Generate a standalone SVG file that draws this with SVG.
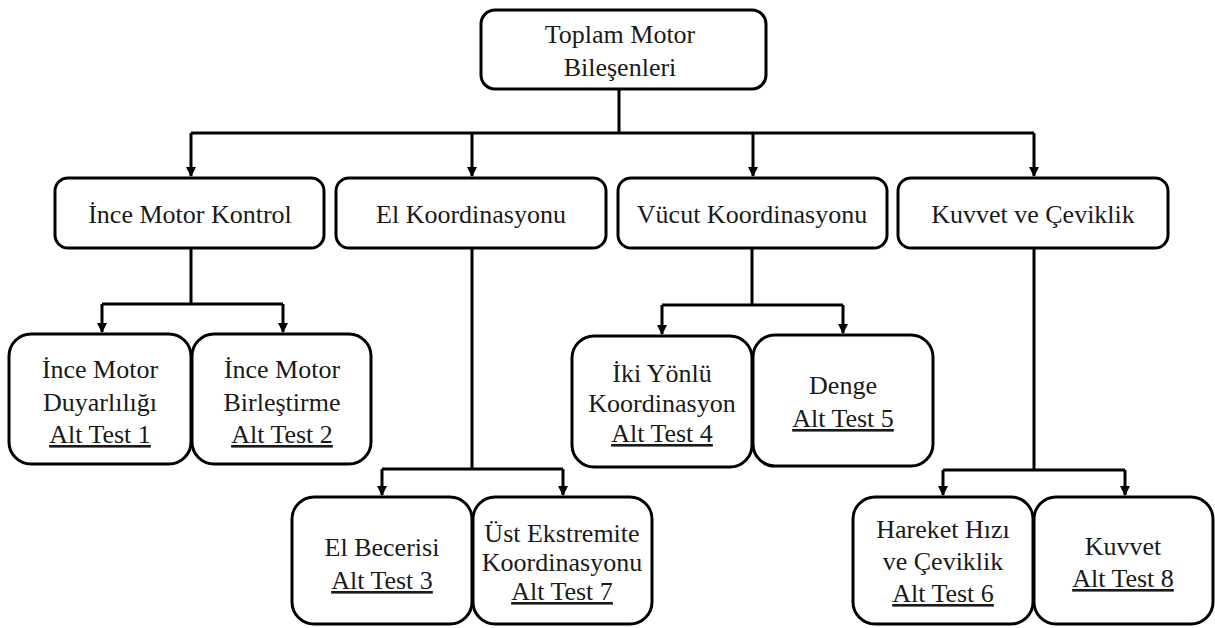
<svg xmlns="http://www.w3.org/2000/svg" width="1215" height="628" viewBox="0 0 1215 628">
<defs>
<marker id="ah" markerWidth="10" markerHeight="10" refX="9" refY="5" orient="auto" markerUnits="userSpaceOnUse">
<path d="M0,0 L10,5 L0,10 Z" fill="#000"/>
</marker>
<style>
.box{fill:#fff;stroke:#000;stroke-width:3}
.t{font-family:"Liberation Serif","Times New Roman",serif;font-size:26px;fill:#1a1a1a;text-anchor:middle}
.u{text-decoration:underline}
.c{fill:none;stroke:#000;stroke-width:3}
.a{fill:none;stroke:#000;stroke-width:3;marker-end:url(#ah)}
</style>
</defs>
<rect width="1215" height="628" fill="#fff"/>
<g id="connectors">
<path class="c" d="M619,89 V133 M191,133 H1034"/>
<path class="a" d="M191,133 V176"/>
<path class="a" d="M472,133 V176"/>
<path class="a" d="M753,133 V176"/>
<path class="a" d="M1034,133 V176"/>
<path class="c" d="M191,249 V304 M102,304 H283"/>
<path class="a" d="M102,304 V332"/>
<path class="a" d="M283,304 V332"/>
<path class="c" d="M472,248 V469 M382,469 H563"/>
<path class="a" d="M382,469 V495"/>
<path class="a" d="M563,469 V495"/>
<path class="c" d="M752,248 V305 M662,305 H843"/>
<path class="a" d="M662,305 V334"/>
<path class="a" d="M843,305 V333"/>
<path class="c" d="M1034,248 V470 M943,470 H1125"/>
<path class="a" d="M943,470 V495"/>
<path class="a" d="M1125,470 V495"/>
</g>
<g id="top">
<rect class="box" x="481" y="10" width="285" height="79" rx="14"/>
<text class="t" x="620" y="43">Toplam Motor</text>
<text class="t" x="620" y="76">Bileşenleri</text>
</g>
<g id="ince-motor-kontrol">
<rect class="box" x="55" y="178" width="269" height="70" rx="13"/>
<text class="t" x="190" y="223">İnce Motor Kontrol</text>
</g>
<g id="el-koordinasyonu">
<rect class="box" x="336" y="178" width="270" height="70" rx="13"/>
<text class="t" x="471" y="223">El Koordinasyonu</text>
</g>
<g id="vucut-koordinasyonu">
<rect class="box" x="618" y="178" width="269" height="70" rx="13"/>
<text class="t" x="752" y="223">Vücut Koordinasyonu</text>
</g>
<g id="kuvvet-ceviklik">
<rect class="box" x="898" y="178" width="270" height="70" rx="13"/>
<text class="t" x="1033" y="223">Kuvvet ve Çeviklik</text>
</g>
<g id="alt1">
<rect class="box" x="9" y="334" width="182" height="130" rx="22"/>
<text class="t" x="100" y="378">İnce Motor</text>
<text class="t" x="100" y="411">Duyarlılığı</text>
<text class="t u" x="100" y="443">Alt Test 1</text>
</g>
<g id="alt2">
<rect class="box" x="192" y="334" width="179" height="130" rx="22"/>
<text class="t" x="282" y="378">İnce Motor</text>
<text class="t" x="282" y="411">Birleştirme</text>
<text class="t u" x="282" y="443">Alt Test 2</text>
</g>
<g id="alt3">
<rect class="box" x="292" y="497" width="180" height="127" rx="22"/>
<text class="t" x="382" y="556">El Becerisi</text>
<text class="t u" x="382" y="589">Alt Test 3</text>
</g>
<g id="alt7">
<rect class="box" x="473" y="497" width="179" height="127" rx="22"/>
<text class="t" x="562" y="542">Üst Ekstremite</text>
<text class="t" x="562" y="571">Koordinasyonu</text>
<text class="t u" x="562" y="600">Alt Test 7</text>
</g>
<g id="alt4">
<rect class="box" x="572" y="336" width="180" height="131" rx="22"/>
<text class="t" x="662" y="382">İki Yönlü</text>
<text class="t" x="662" y="412">Koordinasyon</text>
<text class="t u" x="662" y="442">Alt Test 4</text>
</g>
<g id="alt5">
<rect class="box" x="753" y="335" width="180" height="131" rx="22"/>
<text class="t" x="843" y="394">Denge</text>
<text class="t u" x="843" y="427">Alt Test 5</text>
</g>
<g id="alt6">
<rect class="box" x="853" y="497" width="180" height="127" rx="22"/>
<text class="t" x="943" y="538">Hareket Hızı</text>
<text class="t" x="943" y="570">ve Çeviklik</text>
<text class="t u" x="943" y="602">Alt Test 6</text>
</g>
<g id="alt8">
<rect class="box" x="1034" y="497" width="179" height="127" rx="22"/>
<text class="t" x="1123" y="555">Kuvvet</text>
<text class="t u" x="1123" y="587">Alt Test 8</text>
</g>
</svg>
